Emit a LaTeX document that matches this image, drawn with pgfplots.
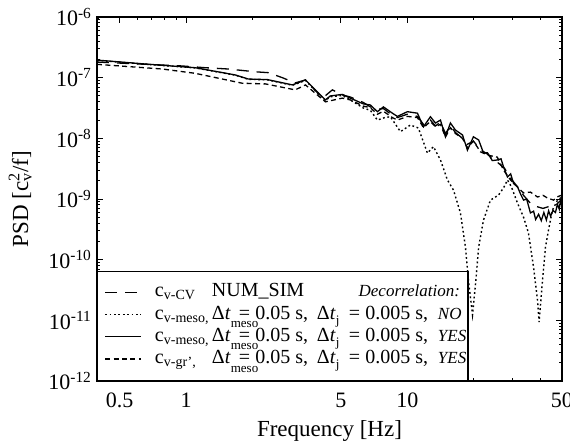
\documentclass[border=0pt]{standalone}
\usepackage{fontspec}
\setmainfont{Liberation Serif}
\usepackage{pgfplots}
\pgfplotsset{compat=1.18}

% legend rows: fixed boxes so the columns line up as in the original
\newcommand{\sfont}{\fontsize{6.5}{6.5}\selectfont}
\newcommand{\ifont}{\fontsize{8.5}{10}\selectfont\itshape}
\newcommand{\dtmeso}{Δ\textit{t}\rlap{\raisebox{-4.3pt}{\sfont meso}}}
\newcommand{\dtj}{Δ\textit{t}\raisebox{-2.5pt}{\sfont j}}
\newcommand{\rowhead}{\makebox[152.5pt][l]{\makebox[28.5pt][l]{c\textsubscript{v-CV}}NUM\_SIM\hfill{\ifont Decorrelation:}}}
\newcommand{\rowsim}[2]{\makebox[152.5pt][l]{\makebox[28.5pt][l]{c\textsubscript{#1}}\makebox[13.5pt][l]{\dtmeso}\makebox[39pt][l]{= 0.05 s,}\makebox[16pt][l]{\dtj}\makebox[44.5pt][l]{= 0.005 s,}{\ifont #2}}}

\begin{document}
\begin{tikzpicture}
\begin{axis}[at={(0,0)},anchor=south west,scale only axis,
width=232.5pt,height=182pt,
xmode=log,ymode=log,
xmin=0.395,xmax=50,ymin=1e-12,ymax=1e-6,
axis line style={line width=0.9pt},
every tick/.style={black,line width=0.5pt},
major tick length=2.8pt,minor tick length=1.5pt,
xtick={0.5,1,5,10,50},xticklabels={0.5,1,5,10,50},
minor xtick={0.4,0.6,0.7,0.8,0.9,2,3,4,6,7,8,9,20,30,40},
ytick={1e-12,1e-11,1e-10,1e-9,1e-8,1e-7,1e-6},
yticklabels={10\textsuperscript{-12},10\textsuperscript{-11},10\textsuperscript{-10},10\textsuperscript{-9},10\textsuperscript{-8},10\textsuperscript{-7},10\textsuperscript{-6}},
/pgf/number format/assume math mode=true,
tick label style={font=\fontsize{11}{13}\selectfont},
xticklabel style={yshift=-2.3pt},
yticklabel style={xshift=1pt},
xlabel={Frequency [Hz]},
ylabel={PSD [c\rlap{\textsubscript{v}}\textsuperscript{2}/f]},
label style={font=\fontsize{11.5}{13}\selectfont},
xlabel style={at={(axis description cs:0.5,0)},anchor=center,yshift=-25pt},
ylabel style={at={(axis description cs:-0.165,0.5)},anchor=center},
legend image code/.code={\path (0pt,2.2pt); \draw[#1] (1.5pt,2.2pt) -- (19.5pt,2.2pt);},
legend style={at={(0,0)},anchor=south west,draw=black,line width=0.6pt,fill=white,
  font=\fontsize{10}{12}\selectfont,inner xsep=2pt,inner ysep=5pt,
  row sep=0pt,column sep=4.5pt,
  cells={anchor=base west,text height=5.6pt,text depth=4pt,inner sep=0pt}},
]
\addplot[black,line width=0.65pt,dash pattern=on 6pt off 4pt] coordinates {
(0.395,1.81e-7) (0.959,1.56e-7) (1.219,1.46e-7) (1.549,1.39e-7) (2.052,1.25e-7)
(2.35,1.21e-7) (2.72,1.0e-7) (3.11,8.2e-8) (3.46,9.15e-8) (4.13,4.6e-8)
(4.58,6.3e-8) (5.08,5.2e-8) (5.52,4.8e-8) (6.32,3.9e-8) (6.80,3.3e-8)
(7.32,3.0e-8) (7.79,3.1e-8) (8.55,2.4e-8) (9.01,2.2e-8) (10.0,2.5e-8)
(11.1,2.3e-8) (11.82,1.7e-8) (12.71,2.0e-8) (13.39,1.6e-8) (14.11,1.85e-8)
(14.86,1.2e-8) (15.65,1.6e-8) (16.49,1.25e-8) (17.74,1.0e-8) (18.69,8.0e-9)
(19.89,9.0e-9) (21.4,6.5e-9) (23.0,5.5e-9) (25.8,3.9e-9) (27.5,3.2e-9)
(29.3,2.2e-9) (31.0,1.7e-9) (33.5,1.15e-9) (36.0,8.5e-10) (38.5,7.5e-10)
(41.0,7.0e-10) (44.0,7.6e-10) (47.0,8.0e-10) (50,1.0e-9)};
\addlegendentry{\rowhead}
\addplot[black,line width=0.7pt,dash pattern=on 0.9pt off 1.3pt] coordinates {
(0.395,1.93e-7) (0.652,1.67e-7) (1.098,1.45e-7) (1.666,1.10e-7) (1.908,9.4e-8)
(2.33,9.2e-8) (3.02,7.5e-8) (3.46,9.0e-8) (4.26,4.2e-8) (4.48,4.85e-8)
(5.08,5.1e-8) (5.52,4.3e-8) (6.32,3.16e-8) (6.80,2.9e-8) (7.32,2.0e-8)
(7.9,2.2e-8) (8.38,2.27e-8) (9.30,1.29e-8) (10.32,1.66e-8) (11.21,1.48e-8)
(12.32,5.7e-9) (13.11,7.3e-9) (14.11,4.4e-9) (15.17,2.06e-9) (16.15,1.41e-9)
(17.37,5.9e-10) (18.3,1.62e-10) (18.88,4.6e-11) (19.7,1.23e-11) (20.4,4.6e-11)
(21.0,1.62e-10) (22.08,4.5e-10) (23.75,9.6e-10) (25.81,1.16e-9) (27.19,1.52e-9)
(28.35,2.06e-9) (29.5,1.6e-9) (31.45,8.6e-10) (33.48,5.05e-10) (35.27,2.75e-10)
(37.17,7.6e-11) (38.75,2.16e-11) (39.4,9.4e-12) (40.83,4.6e-11) (42.11,1.62e-10)
(43.45,3.08e-10) (45.3,6.6e-10) (47.73,9.6e-10) (50,1.08e-9)};
\addlegendentry{\rowsim{v-meso,}{NO}}
\addplot[black,line width=0.65pt,solid] coordinates {
(0.395,1.95e-7) (0.652,1.68e-7) (1.098,1.46e-7) (1.666,1.11e-7) (1.908,9.5e-8)
(2.33,9.3e-8) (3.02,7.6e-8) (3.46,9.2e-8) (4.26,4.3e-8) (4.48,5.0e-8)
(5.08,5.3e-8) (5.52,4.6e-8) (6.32,3.7e-8) (6.80,3.55e-8) (7.32,2.75e-8)
(7.79,3.3e-8) (8.55,2.6e-8) (9.01,2.3e-8) (10.0,2.75e-8) (11.1,2.6e-8)
(11.82,1.55e-8) (12.71,2.27e-8) (13.39,1.79e-8) (14.11,2.0e-8) (14.86,1.06e-8)
(15.65,1.79e-8) (16.49,1.37e-8) (17.74,1.14e-8) (18.69,6.4e-9) (19.89,1.06e-8)
(21.0,9.4e-9) (22.1,5.7e-9) (23.0,5.8e-9) (24.2,4.3e-9) (25.5,4.4e-9)
(26.5,4.6e-9) (27.2,3.4e-9) (28.35,2.3e-9) (29.3,2.6e-9) (30.2,1.8e-9)
(31.45,1.6e-9) (32.5,1.2e-9) (33.5,9.6e-10) (34.6,1.0e-9) (36.0,5.9e-10)
(37.2,6.3e-10) (38.0,4.6e-10) (39.2,5.6e-10) (40.3,4.4e-10) (41.4,6.0e-10)
(42.5,4.5e-10) (43.5,6.4e-10) (44.4,5.2e-10) (45.5,6.5e-10) (46.7,6.0e-10)
(47.7,8.2e-10) (48.6,6.8e-10) (49.3,9.5e-10) (50,8.6e-10)};
\addlegendentry{\rowsim{v-meso,}{YES}}
\addplot[black,line width=0.65pt,dash pattern=on 2.5pt off 1.7pt] coordinates {
(0.395,1.66e-7) (0.779,1.39e-7) (1.098,1.18e-7) (1.792,8.1e-8) (2.278,7.9e-8)
(3.11,6.3e-8) (3.46,7.6e-8) (4.26,4.0e-8) (5.08,4.6e-8) (5.52,4.3e-8)
(6.32,3.4e-8) (6.80,3.2e-8) (7.32,2.5e-8) (7.79,2.8e-8) (8.55,2.2e-8)
(9.01,2.0e-8) (10.0,2.3e-8) (11.1,2.2e-8) (11.82,1.5e-8) (12.71,1.9e-8)
(13.39,1.55e-8) (14.11,1.7e-8) (14.86,1.05e-8) (15.65,1.5e-8) (16.49,1.2e-8)
(17.74,1.0e-8) (18.69,7.0e-9) (19.89,9.0e-9) (21.4,6.0e-9) (23.0,5.3e-9)
(25.5,4.9e-9) (27.2,3.0e-9) (29.25,2.06e-9) (31.45,1.58e-9) (33.5,1.26e-9)
(36.0,1.3e-9) (38.75,1.08e-9) (41.0,1.15e-9) (43.0,1.04e-9) (45.8,9.6e-10)
(48.0,1.1e-9) (50,1.16e-9)};
\addlegendentry{\rowsim{v-gr’,}{YES}}
\end{axis}
\pgfresetboundingbox
\path[use as bounding box] (-48.5pt,-33pt) rectangle (236.5pt,190.5pt);
\end{tikzpicture}
\end{document}
